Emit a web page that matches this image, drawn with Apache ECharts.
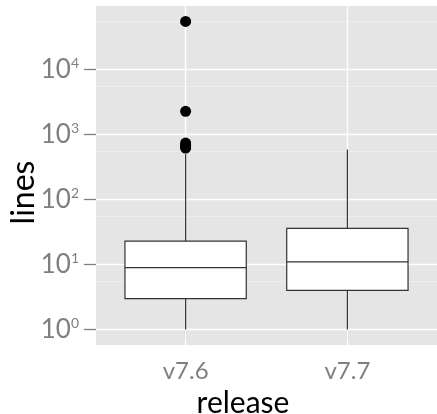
<!DOCTYPE html>
<html><head><meta charset="utf-8">
<script src="https://cdn.jsdelivr.net/npm/echarts@6/dist/echarts.min.js"></script>
<style>html,body{margin:0;padding:0;background:#fff}#c{width:437px;height:414px}</style>
</head><body><div id="c"></div>
<script>
// ---- data (raw line counts) ----
const categories = ['v7.6', 'v7.7'];
const whiskerLow = [1, 1];
const q1 = [3, 4];
const median = [9, 11];
const q3 = [23, 36];
const whiskerHigh = [500, 590];
const outlierCategory = ['v7.6', 'v7.6', 'v7.6', 'v7.6', 'v7.6', 'v7.6'];
const outlierValues = [55000, 2280, 740, 690, 650, 620];
const yTickExponents = [0, 1, 2, 3, 4];
const yMinorBreaks = [5.5, 55, 550, 5500, 55000];

const L = Math.log10;
const FONT = 'Lato';
const GREY = '#7f7f7f';
const boxData = categories.map((c, i) => [i + 1, L(whiskerLow[i]), L(q1[i]), L(median[i]), L(q3[i]), L(whiskerHigh[i])]);
const outData = outlierValues.map((v, i) => [categories.indexOf(outlierCategory[i]) + 1, L(v)]);
const halfW = 0.375;

const gridLines = []
  .concat(yMinorBreaks.map(v => ({ yAxis: L(v), lineStyle: { color: '#F2F2F2', width: 0.7, type: 'solid' } })))
  .concat(yTickExponents.map(v => ({ yAxis: v, lineStyle: { color: '#FFFFFF', width: 1.4, type: 'solid' } })))
  .concat(categories.map((c, i) => ({ xAxis: i + 1, lineStyle: { color: '#FFFFFF', width: 1.4, type: 'solid' } })));

const chart = echarts.init(document.getElementById('c'), null, { renderer: 'canvas' });
const option = {
  animation: false,
  grid: { left: 96, top: 6, width: 345, height: 339, show: true, backgroundColor: '#E5E5E5', borderWidth: 0 },
  xAxis: {
    type: 'value', min: 0.446, max: 2.554,
    axisLine: { show: false }, splitLine: { show: false },
    axisTick: { show: true, customValues: [1, 2], length: 11, lineStyle: { color: GREY, width: 1.3 } },
    axisLabel: { customValues: [1, 2], formatter: v => categories[Math.round(v) - 1], color: GREY, fontSize: 24, fontFamily: FONT, margin: 14 }
  },
  yAxis: {
    type: 'value', min: -0.237, max: 4.977,
    axisLine: { show: false }, splitLine: { show: false },
    axisTick: { show: true, customValues: yTickExponents, length: 12, lineStyle: { color: GREY, width: 1.3 } },
    axisLabel: {
      customValues: yTickExponents, margin: 17,
      formatter: v => '{b|10}{s|' + Math.round(v) + '}',
      rich: {
        b: { fontSize: 26, color: GREY, fontFamily: FONT },
        s: { fontSize: 14, color: GREY, fontFamily: FONT, verticalAlign: 'top' }
      }
    }
  },
  series: [
    {
      type: 'line', data: [], z: 1, silent: true,
      markLine: { silent: true, z: 1, symbol: 'none', label: { show: false }, emphasis: { disabled: true }, data: gridLines }
    },
    {
      type: 'custom', z: 3, data: boxData, silent: true,
      encode: { x: 0, y: [1, 2, 3, 4, 5] },
      renderItem: (params, api) => {
        const x = api.value(0);
        const c = (xx, yy) => api.coord([xx, yy]);
        const lo = c(x, api.value(1)), b1 = c(x, api.value(2)), b3 = c(x, api.value(4)), hi = c(x, api.value(5));
        const tl = c(x - halfW, api.value(4)), br = c(x + halfW, api.value(2));
        const ml = c(x - halfW, api.value(3)), mr = c(x + halfW, api.value(3));
        const ls = { stroke: '#333333', lineWidth: 1.2, fill: null };
        return {
          type: 'group', children: [
            { type: 'line', shape: { x1: lo[0], y1: lo[1], x2: b1[0], y2: b1[1] }, style: ls },
            { type: 'line', shape: { x1: b3[0], y1: b3[1], x2: hi[0], y2: hi[1] }, style: ls },
            { type: 'rect', shape: { x: tl[0], y: tl[1], width: br[0] - tl[0], height: br[1] - tl[1] }, style: { fill: '#FFFFFF', stroke: '#333333', lineWidth: 1.2 } },
            { type: 'line', shape: { x1: ml[0], y1: ml[1], x2: mr[0], y2: mr[1] }, style: ls }
          ]
        };
      }
    },
    {
      type: 'scatter', z: 4, data: outData, symbol: 'circle', symbolSize: 11, silent: true,
      itemStyle: { color: '#000000', opacity: 1 }
    }
  ],
  graphic: [
    { type: 'text', x: 243, y: 403.5, style: { text: 'release', fontSize: 30, fontFamily: FONT, fill: '#000', align: 'center', verticalAlign: 'middle' } },
    { type: 'text', x: 23.5, y: 192.5, rotation: Math.PI / 2, style: { text: 'lines', fontSize: 32, fontFamily: FONT, fill: '#000', align: 'center', verticalAlign: 'middle' } }
  ]
};
chart.setOption(option);
</script>
</body></html>
